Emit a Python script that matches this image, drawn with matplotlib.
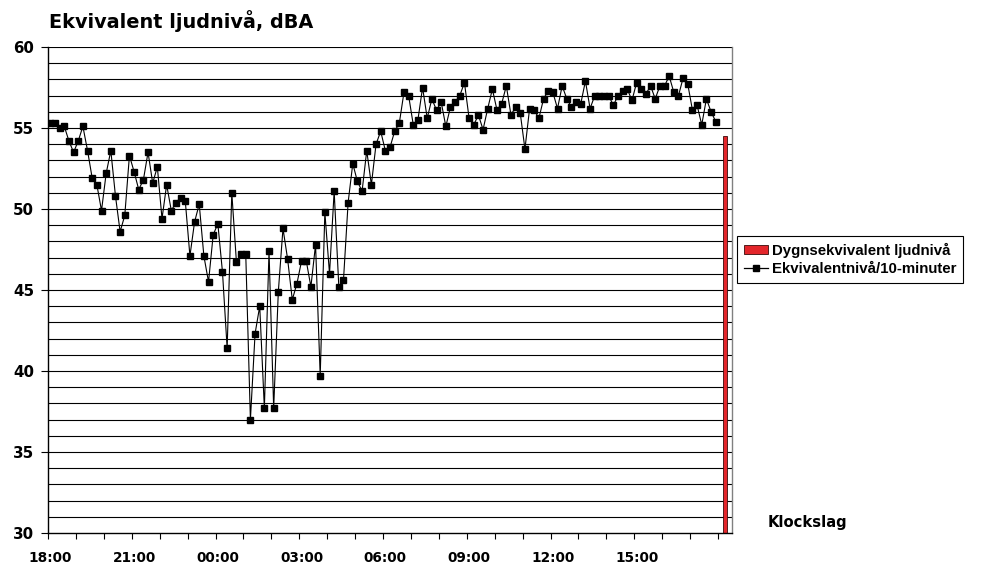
import numpy as np
import matplotlib
matplotlib.use("Agg")
import matplotlib.pyplot as plt
from matplotlib.patches import Patch
from matplotlib.lines import Line2D

# ---- data ----
# 10-minute equivalent levels, 18:00 -> 17:50 next day (144 values)
leq_10min = [
    55.3, 55.3, 55.0, 55.1, 54.2, 53.5, 54.2, 55.1, 53.6, 51.9,
    51.5, 49.9, 52.2, 53.6, 50.8, 48.6, 49.6, 53.3, 52.3, 51.2,
    51.8, 53.5, 51.6, 52.6, 49.4, 51.5, 49.9, 50.4, 50.7, 50.5,
    47.1, 49.2, 50.3, 47.1, 45.5, 48.4, 49.1, 46.1, 41.4, 51.0,
    46.7, 47.2, 47.2, 37.0, 42.3, 44.0, 37.7, 47.4, 37.7, 44.9,
    48.8, 46.9, 44.4, 45.4, 46.8, 46.8, 45.2, 47.8, 39.7, 49.8,
    46.0, 51.1, 45.2, 45.6, 50.4, 52.8, 51.7, 51.1, 53.6, 51.5,
    54.0, 54.8, 53.6, 53.8, 54.8, 55.3, 57.2, 57.0, 55.2, 55.5,
    57.5, 55.6, 56.8, 56.1, 56.6, 55.1, 56.3, 56.6, 57.0, 57.8,
    55.6, 55.2, 55.8, 54.9, 56.2, 57.4, 56.1, 56.5, 57.6, 55.8,
    56.3, 55.9, 53.7, 56.2, 56.1, 55.6, 56.8, 57.3, 57.2, 56.2,
    57.6, 56.8, 56.3, 56.6, 56.5, 57.9, 56.2, 57.0, 57.0, 57.0,
    57.0, 56.4, 57.0, 57.3, 57.4, 56.7, 57.8, 57.4, 57.1, 57.6,
    56.8, 57.6, 57.6, 58.2, 57.2, 57.0, 58.1, 57.7, 56.1, 56.4,
    55.2, 56.8, 56.0, 55.4,
]
dygn_value = 54.5          # daily equivalent level (red bar)
dygn_slot = 145            # category slot of the bar
n_slots = 147              # category slots on the x axis

tick_labels = ["18:00", "21:00", "00:00", "03:00", "06:00", "09:00", "12:00", "15:00"]
label_slots = [0, 18, 36, 54, 72, 90, 108, 126]

WIDE = ["DejaVu Sans"]
NARROW = ["Liberation Sans", "DejaVu Sans"]
plt.rcParams["font.family"] = WIDE

fig = plt.figure(figsize=(9.87, 5.72), dpi=100)
ax = fig.add_axes([48 / 987, 39 / 572, 684 / 987, 486 / 572])

# horizontal lines every 1 dB
for v in range(31, 61):
    ax.axhline(v, color="black", lw=0.8, zorder=1)

x = np.arange(len(leq_10min)) + 0.5
ax.bar(dygn_slot + 0.5, dygn_value, width=0.95, bottom=0,
       color="#e3262b", edgecolor="#3a0a0a", lw=0.6, zorder=2)
ax.plot(x, leq_10min, color="black", lw=0.8, marker="s", ms=4.3,
        mfc="black", mec="black", zorder=3)

ax.set_xlim(0, n_slots)
ax.set_ylim(30, 60)

# y axis
ax.set_yticks(range(30, 61, 5))
ax.tick_params(axis="y", direction="out", length=5, width=0.8, pad=5,
               labelsize=10.8)
for lab in ax.get_yticklabels():
    lab.set_fontweight("bold")

# x axis: ticks every hour, labels every 3 hours centred on the slot
ax.set_xticks(np.arange(0, 145, 6))
ax.set_xticklabels([])
ax.set_xticks(np.array(label_slots) + 0.5, minor=True)
ax.set_xticklabels(tick_labels, minor=True, fontweight="bold", fontsize=9.8)
ax.tick_params(axis="x", which="major", direction="out", length=4, width=0.8)
ax.tick_params(axis="x", which="minor", length=0, pad=13)

for side in ["left", "bottom"]:
    ax.spines[side].set_color("black")
    ax.spines[side].set_linewidth(1.0)
ax.spines["top"].set_visible(False)
ax.spines["right"].set_color("#808080")
ax.spines["right"].set_linewidth(1.0)

fig.text(49 / 987, 1 - 21 / 572, "Ekvivalent ljudnivå, dBA", fontsize=13.9,
         fontweight="bold", va="center", ha="left")
fig.text(768 / 987, 1 - 522 / 572, "Klockslag", fontsize=10.6,
         fontweight="bold", va="center", ha="left")

handles = [
    Patch(facecolor="#e3262b", edgecolor="#3a0a0a", lw=0.6),
    Line2D([0], [0], color="black", lw=0.9, marker="s", ms=4.3),
]
leg = fig.legend(handles, ["Dygnsekvivalent ljudnivå", "Ekvivalentnivå/10-minuter"],
                 loc="upper left", bbox_to_anchor=(737 / 987, 1 - 236 / 572),
                 fancybox=False, framealpha=1, edgecolor="black",
                 prop={"family": NARROW, "weight": "bold", "size": 10.8},
                 handlelength=1.6, handleheight=0.6, handletextpad=0.3,
                 borderpad=0.45, labelspacing=0.3, borderaxespad=0)
leg.get_frame().set_linewidth(0.8)

fig.savefig("out.png", dpi=100)
